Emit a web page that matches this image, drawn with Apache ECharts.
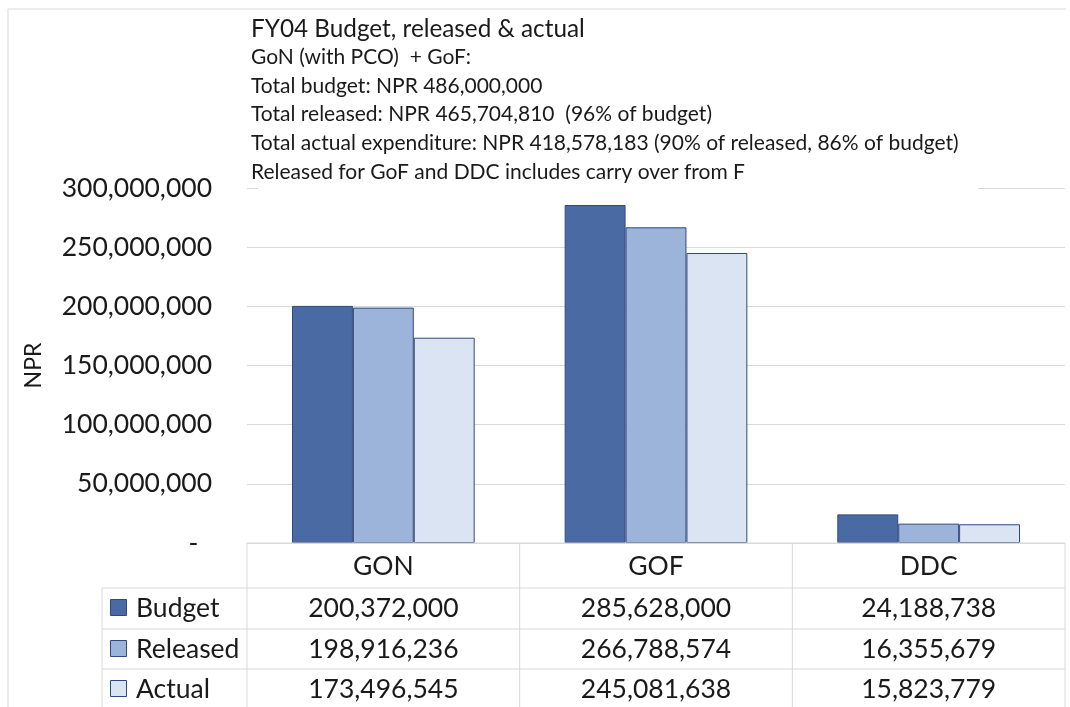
<!DOCTYPE html>
<html>
<head>
<meta charset="utf-8">
<script src="https://cdn.jsdelivr.net/npm/echarts@6/dist/echarts.min.js"></script>
<style>
  html, body { margin: 0; padding: 0; background: #ffffff; }
  #chart { width: 1070px; height: 707px; }
</style>
</head>
<body>
<div id="chart"></div>
<script>
// Funding sources on the category axis
const categories = ['GON', 'GOF', 'DDC'];
// Amounts in NPR per source
const budget = [200372000, 285628000, 24188738];
const released = [198916236, 266788574, 16355679];
const actual = [173496545, 245081638, 15823779];
const seriesNames = ['Budget', 'Released', 'Actual'];
// Value axis range
const yMin = 0, yMax = 300000000, yStep = 50000000;
// Notes block above the plot
const titleText = 'FY04 Budget, released & actual';
const noteLines = [
  'GoN (with PCO)  + GoF:',
  'Total budget: NPR 486,000,000',
  'Total released: NPR 465,704,810  (96% of budget)',
  'Total actual expenditure: NPR 418,578,183 (90% of released, 86% of budget)',
  'Released for GoF and DDC includes carry over from F'
];

const FONT = 'Lato, "Open Sans", sans-serif';
const colors = ['#4a6aa4', '#9cb3da', '#dbe4f3'];
const borderCol = '#2e4a7d';
const lineCol = '#d9d9d9';
const textCol = '#1a1a1a';
const numSize = 26.5;
const seriesData = [budget, released, actual];
const fmt = v => v.toLocaleString('en-US');
// accounting style: zero shown as a padded dash
const axisFmt = v => v === 0 ? '-\u00a0\u00a0' : fmt(v);

const chart = echarts.init(document.getElementById('chart'), null, { renderer: 'canvas' });

const option = {
  animation: false,
  backgroundColor: '#ffffff',
  textStyle: { fontFamily: FONT },
  grid: { left: 247, right: 5, top: 188, bottom: 164, containLabel: false },
  xAxis: {
    type: 'category',
    data: categories,
    axisLine: { show: true, lineStyle: { color: lineCol, width: 1 } },
    axisTick: { show: false },
    axisLabel: { show: false },
    splitLine: { show: false }
  },
  yAxis: {
    type: 'value',
    min: yMin, max: yMax, interval: yStep,
    name: 'NPR',
    nameLocation: 'middle',
    nameGap: 202,
    nameRotate: 90,
    nameTextStyle: { fontFamily: FONT, fontSize: 23, color: textCol },
    axisLine: { show: false },
    axisTick: { show: false },
    axisLabel: { formatter: axisFmt, fontFamily: FONT, fontSize: numSize, color: textCol, margin: 35 },
    splitLine: { lineStyle: { color: lineCol, width: 1 } }
  },
  series: seriesNames.map((name, i) => ({
    name,
    type: 'bar',
    data: seriesData[i],
    barGap: '0%',
    barCategoryGap: '33%',
    itemStyle: { color: colors[i], borderColor: borderCol, borderWidth: 1 },
    z: 3
  }))
};
chart.setOption(option);

// Data table under the plot, aligned to the category bands
function buildGraphics() {
  const c0 = chart.convertToPixel({ xAxisIndex: 0 }, 0);
  const c1 = chart.convertToPixel({ xAxisIndex: 0 }, 1);
  const band = c1 - c0;
  const axisY = chart.convertToPixel({ yAxisIndex: 0 }, 0);
  const topY = chart.convertToPixel({ yAxisIndex: 0 }, yMax);
  const left = c0 - band / 2;
  const right = left + band * categories.length;
  const labelLeft = 102;
  const headerH = 45, rowH = 40;
  const rowTops = [axisY + headerH, axisY + headerH + 41, axisY + headerH + 81];
  const bottom = 707;
  const g = [];
  const line = (x1, y1, x2, y2) => g.push({
    type: 'line', silent: true, z: 10,
    shape: { x1, y1, x2, y2 },
    style: { stroke: lineCol, lineWidth: 1 }
  });
  const txt = (x, y, text, align, size) => g.push({
    type: 'text', silent: true, z: 11,
    x, y,
    style: { text, fill: textCol, font: size + 'px ' + FONT, align, verticalAlign: 'middle' }
  });

  // outer frame
  line(8, 9, 1066, 9);
  line(8, 9, 8, bottom);

  // white panel behind the notes
  g.push({ type: 'rect', silent: true, z: 9,
    shape: { x: 258, y: 14, width: 720, height: topY - 14 + 3 },
    style: { fill: '#ffffff' } });

  // notes
  txt(251, 29, titleText, 'left', 24.3);
  noteLines.forEach((t, i) => txt(251, 57 + i * 28.8, t, 'left', 21));

  // table grid
  for (let k = 0; k <= categories.length; k++) {
    const x = left + band * k;
    line(x, axisY, x, bottom);
  }
  line(left, axisY, right, axisY);
  rowTops.forEach(y => line(labelLeft, y, right, y));
  line(labelLeft, rowTops[0], labelLeft, bottom);

  // header
  categories.forEach((cat, k) => txt(left + band * (k + 0.5), axisY + headerH / 2 + 1, cat, 'center', numSize));

  // rows
  seriesNames.forEach((name, i) => {
    const yc = rowTops[i] + rowH / 2;
    g.push({ type: 'rect', silent: true, z: 11,
      shape: { x: 110.5, y: yc - 8.5, width: 16, height: 16 },
      style: { fill: colors[i], stroke: borderCol, lineWidth: 1 } });
    txt(136, yc, name, 'left', numSize);
    seriesData[i].forEach((v, k) => txt(left + band * (k + 0.5), yc, fmt(v), 'center', numSize));
  });
  chart.setOption({ graphic: g });
}
buildGraphics();
</script>
</body>
</html>
